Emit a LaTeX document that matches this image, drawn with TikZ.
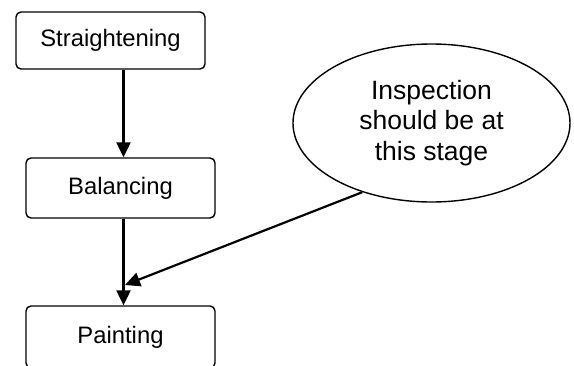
\documentclass[tikz,border=0pt]{standalone}
\usepackage{fontspec}
\setmainfont{Liberation Sans}
\usetikzlibrary{arrows.meta,shapes.geometric}
\begin{document}
\begin{tikzpicture}[x=1pt,y=-1pt,
  box/.style={draw,line width=1.4pt,rounded corners=5pt,minimum width=189pt,inner sep=0pt,font=\fontsize{23.8}{30}\selectfont},
  bubble/.style={draw,ellipse,line width=1.4pt,minimum width=277pt,minimum height=158pt,inner sep=0pt,align=center,font=\fontsize{26.5}{30.5}\selectfont},
  flow/.style={line width=2.2pt,-{Triangle[length=15pt,width=14pt]}}]
\useasboundingbox (0,0) rectangle (574,365);
\node[box,minimum height=57pt] (s) at (110.5,40.5) {Straightening};
\node[box,minimum height=60pt] (b) at (120.5,188) {Balancing};
\node[box,minimum height=62pt] (p) at (120.5,337) {Painting};
\node[bubble] (i) at (431.5,123) {Inspection\\should be at\\this stage};
\coordinate (ax) at (123.5,0);
\coordinate (tip) at (125,285);
\draw[flow] (s.south -| ax) -- (b.north -| ax);
\draw[flow] (b.south -| ax) -- (p.north -| ax);
\draw[flow] (i.225.6) -- (tip);
\end{tikzpicture}
\end{document}
